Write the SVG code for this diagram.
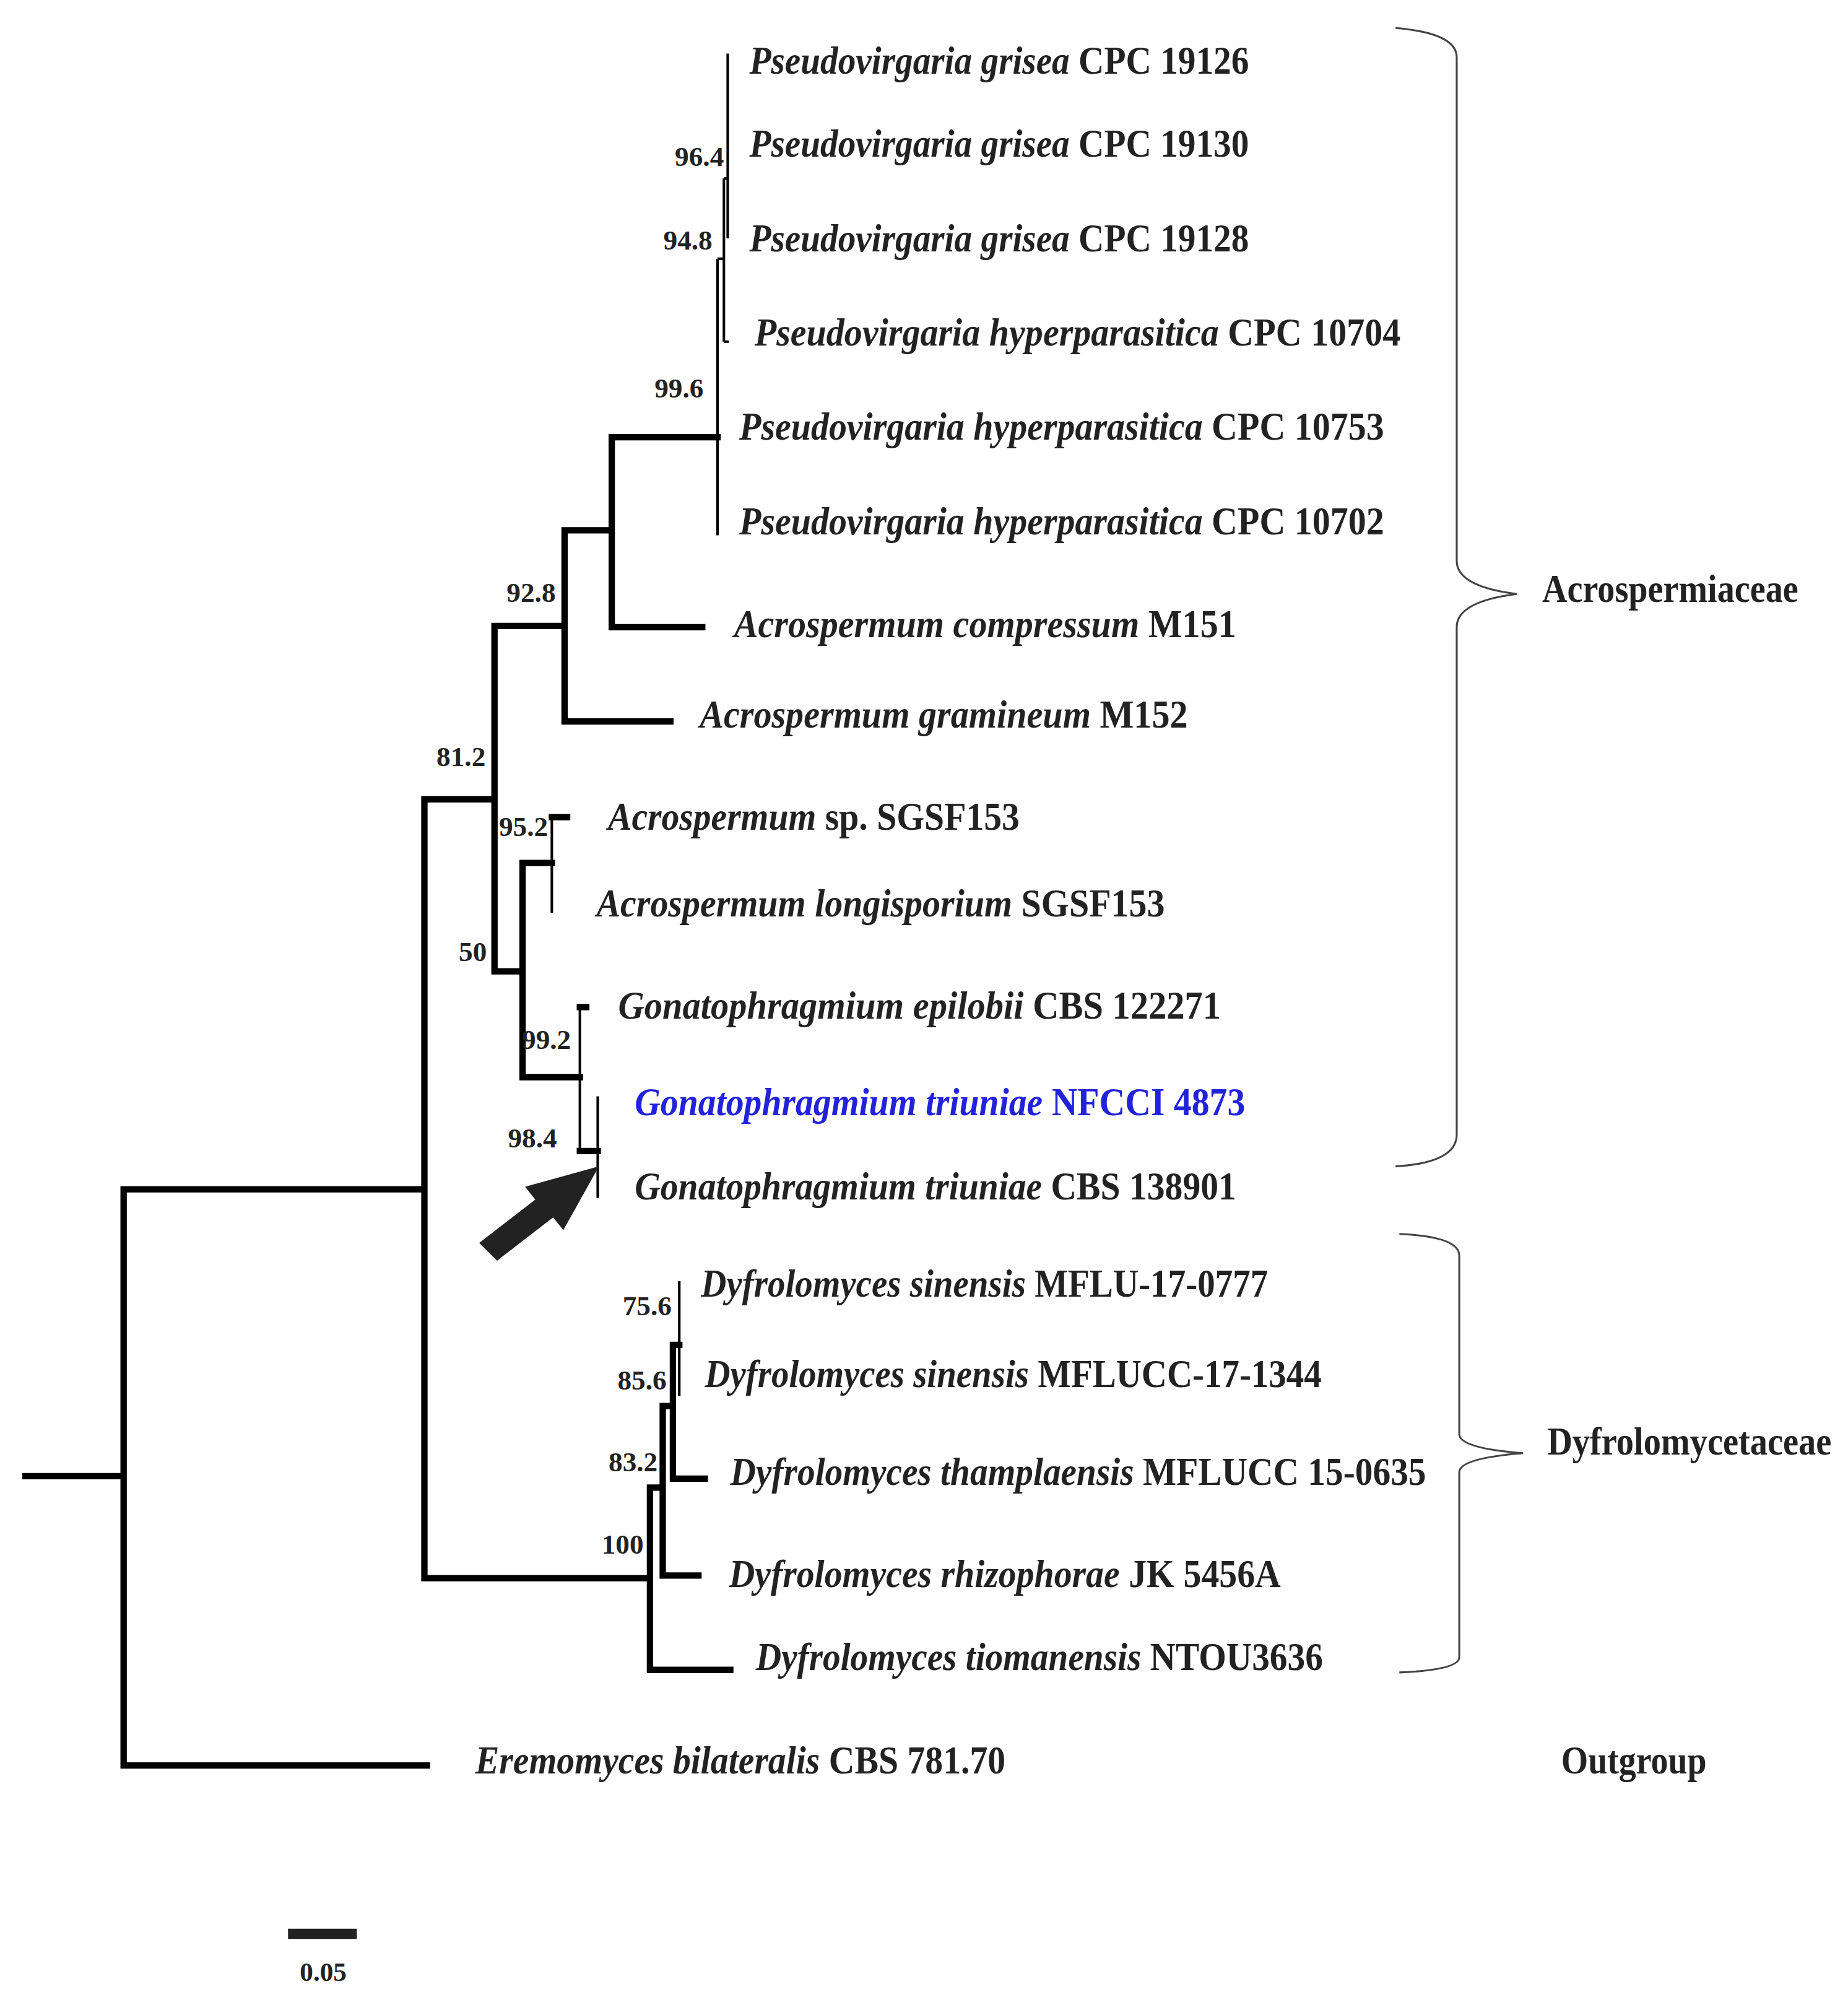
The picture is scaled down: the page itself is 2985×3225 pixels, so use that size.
<svg xmlns="http://www.w3.org/2000/svg" width="2985" height="3225" viewBox="0 0 2985 3225">
<style>
.t{font-family:"Liberation Serif",serif;font-weight:bold;font-size:31px;fill:#222}
.i{font-style:italic}
.s{font-family:"Liberation Serif",serif;font-weight:bold;font-size:22px;fill:#222;text-anchor:end}
.b{stroke:#000;fill:none;stroke-width:5;stroke-linecap:square}
.n{stroke:#000;fill:none;stroke-width:2}
.br{stroke:#444;fill:none;stroke-width:1.5}
</style>
<rect width="2985" height="3225" fill="#fff"/>
<g transform="scale(2.0586)">
<g id="connectors">
<path class="b" d="M20 1158H97M97 933V1385M97 933H333M97 1385H335M333 627V1238M333 627H388M333 1238H510M388 491V762M388 491H443M388 762H410M443 416V566M443 416H480M443 566H526M480 343V492M480 343H563M480 492H551M410 677V845M410 677H433M433 641H445M410 845H455M455 790H460M455 903H469M510 1167V1310M510 1310H573M510 1167H520M520 1103V1236M520 1236H548M520 1103H528M528 1055V1160M528 1160H553M528 1055H533"/>
<path class="n" d="M563 203V420M563 203H568M568 140V268M568 268H572M568 140H571M571 42V187M433 641V716M455 790V903M469 860V940M533 1005V1095"/>
<path d="M226 1517H280" stroke="#222" stroke-width="8"/>
<polygon points="376,975 420,941 412,931 470,915 442,965 434,955 390,989" fill="#222"/>
<path class="br" d="M1095 22Q1143 26 1143 45V440Q1143 460 1190 466Q1143 472 1143 492V890Q1143 912 1095 915"/>
<path class="br" d="M1098 968Q1145 970 1145 985V1125Q1145 1136 1195 1140Q1145 1144 1145 1155V1300Q1145 1310 1098 1312"/>
</g>
<g id="supports">
<text class="s" x="568" y="130">96.4</text>
<text class="s" x="559" y="196">94.8</text>
<text class="s" x="552" y="312">99.6</text>
<text class="s" x="436" y="472">92.8</text>
<text class="s" x="381" y="601">81.2</text>
<text class="s" x="430" y="656">95.2</text>
<text class="s" x="382" y="754">50</text>
<text class="s" x="448" y="823">99.2</text>
<text class="s" x="437" y="900">98.4</text>
<text class="s" x="527" y="1032">75.6</text>
<text class="s" x="523" y="1090">85.6</text>
<text class="s" x="516" y="1154">83.2</text>
<text class="s" x="505" y="1219">100</text>
</g>
<g id="tip1"><text class="t" x="588" y="58" textLength="392" lengthAdjust="spacingAndGlyphs"><tspan class="i">Pseudovirgaria grisea</tspan> CPC 19126</text></g>
<g id="tip2"><text class="t" x="588" y="123" textLength="392" lengthAdjust="spacingAndGlyphs"><tspan class="i">Pseudovirgaria grisea</tspan> CPC 19130</text></g>
<g id="tip3"><text class="t" x="588" y="197" textLength="392" lengthAdjust="spacingAndGlyphs"><tspan class="i">Pseudovirgaria grisea</tspan> CPC 19128</text></g>
<g id="tip4"><text class="t" x="592" y="271" textLength="507" lengthAdjust="spacingAndGlyphs"><tspan class="i">Pseudovirgaria hyperparasitica</tspan> CPC 10704</text></g>
<g id="tip5"><text class="t" x="580" y="345" textLength="506" lengthAdjust="spacingAndGlyphs"><tspan class="i">Pseudovirgaria hyperparasitica</tspan> CPC 10753</text></g>
<g id="tip6"><text class="t" x="580" y="419" textLength="506" lengthAdjust="spacingAndGlyphs"><tspan class="i">Pseudovirgaria hyperparasitica</tspan> CPC 10702</text></g>
<g id="tip7"><text class="t" x="576" y="500" textLength="394" lengthAdjust="spacingAndGlyphs"><tspan class="i">Acrospermum compressum</tspan> M151</text></g>
<g id="tip8"><text class="t" x="549" y="571" textLength="383" lengthAdjust="spacingAndGlyphs"><tspan class="i">Acrospermum gramineum</tspan> M152</text></g>
<g id="tip9"><text class="t" x="477" y="651" textLength="323" lengthAdjust="spacingAndGlyphs"><tspan class="i">Acrospermum</tspan> sp. SGSF153</text></g>
<g id="tip10"><text class="t" x="468" y="719" textLength="446" lengthAdjust="spacingAndGlyphs"><tspan class="i">Acrospermum longisporium</tspan> SGSF153</text></g>
<g id="tip11"><text class="t" x="485" y="799" textLength="473" lengthAdjust="spacingAndGlyphs"><tspan class="i">Gonatophragmium epilobii</tspan>  CBS 122271</text></g>
<g id="tip12"><text class="t" x="498" y="875" textLength="479" lengthAdjust="spacingAndGlyphs" style="fill:#2222dd"><tspan class="i">Gonatophragmium triuniae</tspan> NFCCI 4873</text></g>
<g id="tip13"><text class="t" x="498" y="941" textLength="472" lengthAdjust="spacingAndGlyphs"><tspan class="i">Gonatophragmium triuniae</tspan> CBS 138901</text></g>
<g id="tip14"><text class="t" x="550" y="1017" textLength="445" lengthAdjust="spacingAndGlyphs"><tspan class="i">Dyfrolomyces sinensis</tspan> MFLU-17-0777</text></g>
<g id="tip15"><text class="t" x="553" y="1088" textLength="484" lengthAdjust="spacingAndGlyphs"><tspan class="i">Dyfrolomyces sinensis</tspan> MFLUCC-17-1344</text></g>
<g id="tip16"><text class="t" x="573" y="1165" textLength="546" lengthAdjust="spacingAndGlyphs"><tspan class="i">Dyfrolomyces thamplaensis</tspan> MFLUCC 15-0635</text></g>
<g id="tip17"><text class="t" x="572" y="1245" textLength="433" lengthAdjust="spacingAndGlyphs"><tspan class="i">Dyfrolomyces rhizophorae</tspan> JK 5456A</text></g>
<g id="tip18"><text class="t" x="593" y="1310" textLength="445" lengthAdjust="spacingAndGlyphs"><tspan class="i">Dyfrolomyces tiomanensis</tspan> NTOU3636</text></g>
<g id="tip19"><text class="t" x="373" y="1391" textLength="416" lengthAdjust="spacingAndGlyphs"><tspan class="i">Eremomyces bilateralis</tspan> CBS 781.70</text></g>
<g id="fam1"><text class="t" x="1210" y="472" textLength="201" lengthAdjust="spacingAndGlyphs">Acrospermiaceae</text></g>
<g id="fam2"><text class="t" x="1214" y="1141" textLength="223" lengthAdjust="spacingAndGlyphs">Dyfrolomycetaceae</text></g>
<g id="fam3"><text class="t" x="1225" y="1391" textLength="114" lengthAdjust="spacingAndGlyphs">Outgroup</text></g>
<g id="scale"><text class="s" x="272" y="1554" style="font-size:21px">0.05</text></g>
</g>
</svg>
